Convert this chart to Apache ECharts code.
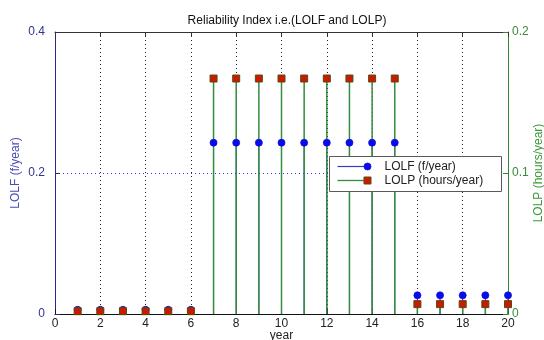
<!DOCTYPE html>
<html>
<head>
<meta charset="utf-8">
<script src="https://cdn.jsdelivr.net/npm/echarts@6/dist/echarts.min.js"></script>
<style>
  html, body { margin: 0; padding: 0; background: #ffffff; }
  #chart { width: 544px; height: 340px; }
</style>
</head>
<body>
<div id="chart"></div>
<script>
// Study years
const years = [1, 2, 3, 4, 5, 6, 7, 8, 9, 10, 11, 12, 13, 14, 15, 16, 17, 18, 19, 20];
// Loss of load frequency (f/year), left axis
const lolf = [0.006, 0.006, 0.006, 0.006, 0.006, 0.006,
              0.243, 0.243, 0.243, 0.243, 0.243, 0.243, 0.243, 0.243, 0.243,
              0.0265, 0.0265, 0.0265, 0.0265, 0.0265];
// Loss of load probability (hours/year), right axis
const lolp = [0.002, 0.002, 0.002, 0.002, 0.002, 0.002,
              0.167, 0.167, 0.167, 0.167, 0.167, 0.167, 0.167, 0.167, 0.167,
              0.007, 0.007, 0.007, 0.007, 0.007];

const titleText = 'Reliability Index i.e.(LOLF and LOLP)';
const leftName = 'LOLF (f/year)';
const rightName = 'LOLP (hours/year)';
const xName = 'year';

const BLUE_AXIS = '#2a2a8e';
const BLUE_MARK = '#0a0af0';
const GREEN_AXIS = '#2f8a2f';
const GREEN_STEM = '#348c3c';
const RED_MARK = '#cc1a00';
const FONT = 'Liberation Sans, Arial, sans-serif';

const pairs = (vals) => years.map((y, i) => [y, vals[i]]);

// Vertical stem from zero up to the value, through the axis scale
function stem(color, width) {
  return function (params, api) {
    const x = api.value(0);
    const p0 = api.coord([x, 0]);
    const p1 = api.coord([x, api.value(1)]);
    return {
      type: 'line',
      shape: { x1: p0[0], y1: p0[1], x2: p1[0], y2: p1[1] },
      style: { stroke: color, lineWidth: width }
    };
  };
}

const chart = echarts.init(document.getElementById('chart'), null, { renderer: 'canvas' });

const LZ = 100; // legend box sits above all plot marks

const option = {
  backgroundColor: '#ffffff',
  animation: false,
  textStyle: { fontFamily: FONT },
  title: {
    text: titleText,
    left: 282,
    textAlign: 'center',
    top: 10,
    textStyle: { fontSize: 12, fontWeight: 'normal', color: '#111111', fontFamily: FONT }
  },
  grid: { left: 55, right: 36, top: 32, bottom: 26, containLabel: false, outerBoundsMode: 'none' },
  xAxis: [
    {
      type: 'value', min: 0, max: 20, interval: 2, position: 'bottom',
      name: xName, nameLocation: 'middle', nameGap: 16, nameMoveOverlap: false,
      nameTextStyle: { fontSize: 12, color: '#222222', fontFamily: FONT },
      axisLine: { show: true, onZero: false, lineStyle: { color: '#111111', width: 1 } },
      axisTick: { show: true, inside: true, length: 5, lineStyle: { color: '#111111' } },
      axisLabel: { fontSize: 12, color: '#222222', margin: 4, fontFamily: FONT },
      splitLine: {
        show: true, showMinLine: false, showMaxLine: false,
        lineStyle: { color: '#222222', type: [1, 3], width: 1 }
      }
    },
    {
      type: 'value', min: 0, max: 20, interval: 2, position: 'top',
      axisLine: { show: true, onZero: false, lineStyle: { color: '#333333', width: 1 } },
      axisTick: { show: true, inside: true, length: 5, lineStyle: { color: '#333333' } },
      axisLabel: { show: false },
      splitLine: { show: false }
    }
  ],
  yAxis: [
    {
      type: 'value', min: 0, max: 0.4, interval: 0.2, position: 'left',
      name: leftName, nameLocation: 'middle', nameGap: 33, nameRotate: 90, nameMoveOverlap: false,
      nameTextStyle: { fontSize: 12, color: '#4a4ab4', fontFamily: FONT },
      axisLine: { show: true, onZero: false, lineStyle: { color: BLUE_AXIS, width: 1 } },
      axisTick: { show: true, inside: true, length: 5, lineStyle: { color: BLUE_AXIS } },
      axisLabel: { fontSize: 12, color: '#33338f', margin: 10, fontFamily: FONT },
      splitLine: {
        show: true, showMinLine: false, showMaxLine: false,
        lineStyle: { color: '#2f2ff5', type: [1, 3], width: 1 }
      }
    },
    {
      type: 'value', min: 0, max: 0.2, interval: 0.1, position: 'right',
      name: rightName, nameLocation: 'middle', nameGap: 25, nameRotate: 90, nameMoveOverlap: false,
      nameTextStyle: { fontSize: 12, color: '#3a9a3a', fontFamily: FONT },
      axisLine: { show: true, onZero: false, lineStyle: { color: GREEN_AXIS, width: 1 } },
      axisTick: { show: true, inside: true, length: 5, lineStyle: { color: GREEN_AXIS } },
      axisLabel: { fontSize: 12, color: '#3a8a3a', margin: 4, fontFamily: FONT },
      splitLine: { show: false }
    }
  ],
  series: [
    {
      name: leftName + ' stems', type: 'custom', xAxisIndex: 0, yAxisIndex: 0, z: 2,
      data: pairs(lolf), renderItem: stem('#2a2ac0', 1), clip: false
    },
    {
      name: rightName + ' stems', type: 'custom', xAxisIndex: 0, yAxisIndex: 1, z: 3,
      data: pairs(lolp), renderItem: stem(GREEN_STEM, 1.5), clip: false
    },
    {
      name: 'LOLF', type: 'scatter', xAxisIndex: 0, yAxisIndex: 0, z: 4,
      data: pairs(lolf), symbol: 'circle', symbolSize: 7, clip: false,
      itemStyle: { color: BLUE_MARK, borderColor: '#1010d0', borderWidth: 0.8, opacity: 1 }
    },
    {
      name: 'LOLP', type: 'scatter', xAxisIndex: 0, yAxisIndex: 1, z: 5,
      data: pairs(lolp), symbol: 'rect', symbolSize: 7, clip: false,
      itemStyle: { color: RED_MARK, borderColor: '#5a4a12', borderWidth: 1, opacity: 1 }
    }
  ],
  graphic: [
    {
      type: 'group', left: 329, top: 156, z: LZ,
      children: [
        { type: 'rect', z: LZ, shape: { x: 0, y: 0, width: 172, height: 35 },
          style: { fill: '#ffffff', stroke: '#5a5a5a', lineWidth: 1 } },
        { type: 'line', z: LZ + 1, shape: { x1: 8, y1: 10, x2: 38, y2: 10 },
          style: { stroke: '#3a3ac0', lineWidth: 1.2 } },
        { type: 'circle', z: LZ + 2, shape: { cx: 38, cy: 10, r: 3.5 },
          style: { fill: BLUE_MARK, stroke: '#1010d0', lineWidth: 0.8 } },
        { type: 'text', z: LZ + 2, x: 55, y: 10,
          style: { text: 'LOLF (f/year)', font: '12px ' + FONT, fill: '#222222', verticalAlign: 'middle', align: 'left' } },
        { type: 'line', z: LZ + 1, shape: { x1: 8, y1: 24, x2: 38, y2: 24 },
          style: { stroke: GREEN_STEM, lineWidth: 1.3 } },
        { type: 'rect', z: LZ + 2, shape: { x: 34.5, y: 20.5, width: 7, height: 7 },
          style: { fill: RED_MARK, stroke: '#5a4a12', lineWidth: 1 } },
        { type: 'text', z: LZ + 2, x: 55, y: 24,
          style: { text: 'LOLP (hours/year)', font: '12px ' + FONT, fill: '#222222', verticalAlign: 'middle', align: 'left' } }
      ]
    }
  ]
};

chart.setOption(option);
</script>
</body>
</html>
